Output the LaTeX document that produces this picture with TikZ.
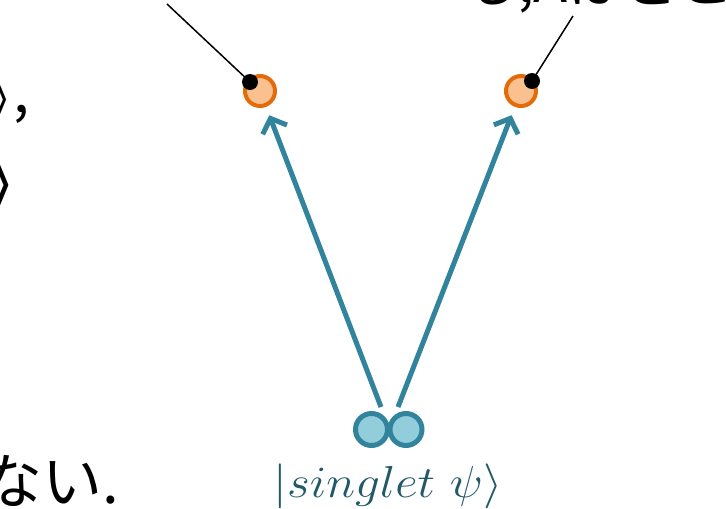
\documentclass[tikz,border=0pt]{standalone}
\usepackage{graphicx}
\usepackage{fontspec}
\newfontfamily\jpfont{Noto Sans CJK JP}
\usetikzlibrary{arrows.meta}
\definecolor{arrowblue}{HTML}{31849B}
\definecolor{pairfill}{HTML}{92CDDC}
\definecolor{labelteal}{HTML}{215968}
\definecolor{orangeline}{HTML}{E36C0A}
\definecolor{orangefill}{HTML}{FAC090}
\begin{document}
\begin{tikzpicture}[x=1pt,y=-1pt]
\tikzset{
  particle/.style={circle, minimum size=30pt, inner sep=0pt, line width=4pt, draw=orangeline, fill=orangefill},
  pairball/.style={circle, minimum size=32pt, inner sep=0pt, line width=5pt, draw=arrowblue, fill=pairfill},
  dotend/.style={circle, fill=black, minimum size=16pt, inner sep=0pt},
  flight/.style={draw=arrowblue, line width=5pt, -{Straight Barb[length=12pt,width=26pt]}},
  pointer/.style={draw=black, line width=1.5pt},
  bigtext/.style={inner sep=0pt, anchor=base west}
}
\useasboundingbox (0,0) rectangle (726,509);
\clip (0,0) rectangle (726,509);
\fill[white] (0,0) rectangle (726,509);

% partial texts at the edges
\node[bigtext] (ketone) at (-10,112) {\scalebox{2.01}{\Huge\boldmath$\rangle$}\hspace{1pt}{\jpfont\fontsize{58}{58}\selectfont,}};
\node[bigtext] (kettwo) at (-16,204) {\scalebox{3.05}{\Huge\boldmath$\rangle$}};
\node[bigtext, font=\jpfont\fontsize{60}{60}\selectfont] (nai) at (-18,503) {ない.};
\node[bigtext, font=\jpfont\fontsize{56}{56}\selectfont] (where) at (462,2) {も,Aはどこ};

% particles
\node[particle] (pA) at (260,91) {};
\node[particle] (pB) at (521,91) {};
\node[pairball] (sA) at (371.5,429.5) {};
\node[pairball] (sB) at (406,429.5) {};

% arrows
\coordinate (startA) at (381,407);
\coordinate (startB) at (398,407);
\draw[flight, shorten >=9pt] (startA) -- (pA);
\draw[flight, shorten >=9pt] (startB) -- (pB);

% pointers
\coordinate (lblA) at (167,4);
\coordinate (lblB) at (573,16);
\node[dotend] (dA) at (250,82) {};
\node[dotend] (dB) at (532,81) {};
\draw[pointer] (lblA) -- (dA.center);
\draw[pointer] (lblB) -- (dB.center);

% label
\node[text=labelteal, inner sep=0pt, anchor=base] (lbl) at (388,497) {\scalebox{1.98}[1.8]{\Huge$|singlet\ \psi\rangle$}};
\end{tikzpicture}
\end{document}
